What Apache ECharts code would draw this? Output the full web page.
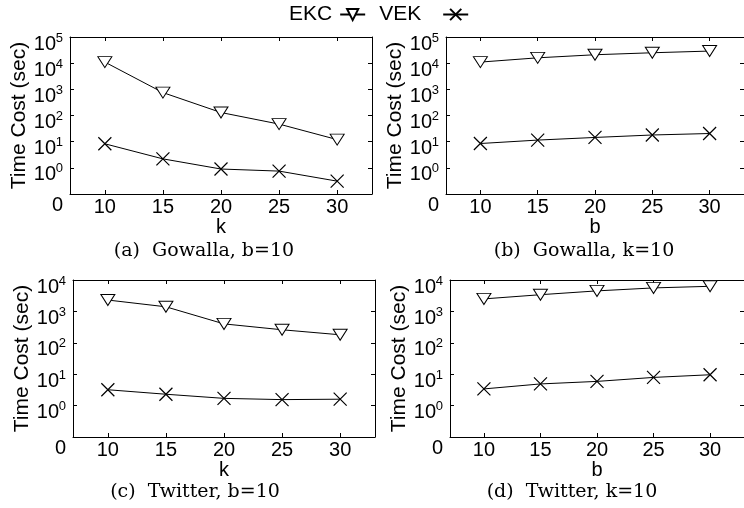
<!DOCTYPE html>
<html>
<head>
<meta charset="utf-8">
<script src="https://cdn.jsdelivr.net/npm/echarts@6/dist/echarts.min.js"></script>
<style>
html, body { margin: 0; padding: 0; background: #fff; }
#main { width: 744px; height: 508px; }
</style>
</head>
<body>
<div id="main"></div>
<script>
// x positions shared by all panels (k or b)
var xValues = [10, 15, 20, 25, 30];

// (a) Gowalla, b=10
var gowallaK_EKC = [11000, 750, 130, 47, 12];
var gowallaK_VEK = [8.3, 2.2, 0.9, 0.75, 0.31];
// (b) Gowalla, k=10
var gowallaB_EKC = [11000, 16000, 21000, 25000, 29000];
var gowallaB_VEK = [8.5, 11.5, 14.5, 18, 20.5];
// (c) Twitter, b=10
var twitterK_EKC = [2300, 1400, 400, 260, 180];
var twitterK_VEK = [3.2, 2.3, 1.7, 1.55, 1.6];
// (d) Twitter, k=10
var twitterB_EKC = [2500, 3400, 4500, 5600, 6300];
var twitterB_VEK = [3.4, 4.9, 5.9, 7.9, 9.6];

var yMin = [0.1, 0.1, 0.1, 0.1];
var yMax = [1e5, 1e5, 1e4, 1e4];
var xNames = ['k', 'b', 'k', 'b'];
var captions = ['(a)  Gowalla, b=10', '(b)  Gowalla, k=10', '(c)  Twitter, b=10', '(d)  Twitter, k=10'];

var panels = [
    [gowallaK_EKC, gowallaK_VEK],
    [gowallaB_EKC, gowallaB_VEK],
    [twitterK_EKC, twitterK_VEK],
    [twitterB_EKC, twitterB_VEK]
];

var FONT = 'Liberation Sans';
var TRI = 'path://M0,0L10,0L5,8.5Z';
var CROSS = 'path://M0,0L10,10M0,10L10,0';

var grids = [
    { left: 70, top: 37, width: 302, height: 157 },
    { left: 446, top: 37, width: 302, height: 157 },
    { left: 73, top: 280, width: 302, height: 157 },
    { left: 450, top: 280, width: 302, height: 157 }
];
var captionPos = [[204, 251], [584, 251], [195, 492], [572, 492]];

function pairs(ys) {
    var out = [];
    for (var i = 0; i < xValues.length; i++) {
        out.push([xValues[i], ys[i]]);
    }
    return out;
}

// 10^e drawn as two lines: superscript on top, "10" below it
function yLabel(v) {
    var e = Math.round(Math.log10(v));
    if (e < 0) return '{z|0}';
    return '{s|' + e + '}\n{b|10}{sp| }';
}

var lineAxis = { show: true, lineStyle: { color: '#000', width: 1 } };

var xAxes = [], yAxes = [], series = [], graphics = [];
for (var g = 0; g < 4; g++) {
    // bottom x axis
    xAxes.push({
        gridIndex: g, type: 'value', position: 'bottom',
        min: 7, max: 33,
        name: xNames[g], nameLocation: 'middle', nameGap: 20,
        nameTextStyle: { fontFamily: FONT, fontSize: 20, color: '#000' },
        axisLine: lineAxis,
        axisTick: { show: true, inside: true, length: 4, customValues: xValues, lineStyle: { color: '#000' } },
        axisLabel: { customValues: xValues, margin: 3, fontFamily: FONT, fontSize: 20, color: '#000' },
        splitLine: { show: false }
    });
    // top mirror
    xAxes.push({
        gridIndex: g, type: 'value', position: 'top',
        min: 7, max: 33,
        axisLine: lineAxis,
        axisTick: { show: true, inside: true, length: 4, customValues: xValues, lineStyle: { color: '#000' } },
        axisLabel: { show: false },
        splitLine: { show: false }
    });
    // left log axis
    yAxes.push({
        gridIndex: g, type: 'log', logBase: 10, position: 'left',
        min: yMin[g], max: yMax[g],
        name: 'Time Cost (sec)', nameLocation: 'middle', nameGap: 39,
        nameTextStyle: { fontFamily: FONT, fontSize: 21, color: '#000' },
        axisLine: lineAxis,
        axisTick: { show: true, inside: true, length: 4, lineStyle: { color: '#000' } },
        minorTick: { show: false },
        axisLabel: {
            margin: 7, formatter: yLabel, color: '#000',
            verticalAlign: 'top', align: 'right',
            showMinLabel: true, showMaxLabel: true, hideOverlap: false,
            rich: {
                s: { fontFamily: FONT, fontSize: 13, lineHeight: 2, color: '#000' },
                b: { fontFamily: FONT, fontSize: 20, lineHeight: 10, color: '#000' },
                sp: { fontFamily: FONT, fontSize: 13, lineHeight: 10, width: 7 },
                z: { fontFamily: FONT, fontSize: 20, lineHeight: 22, color: '#000' }
            }
        },
        splitLine: { show: false }
    });
    // right mirror
    yAxes.push({
        gridIndex: g, type: 'log', logBase: 10, position: 'right',
        min: yMin[g], max: yMax[g],
        axisLine: lineAxis,
        axisTick: { show: true, inside: true, length: 4, lineStyle: { color: '#000' } },
        axisLabel: { show: false },
        splitLine: { show: false }
    });

    series.push({
        name: 'EKC', type: 'line',
        xAxisIndex: g * 2, yAxisIndex: g * 2,
        data: pairs(panels[g][0]),
        symbol: TRI, symbolSize: [14, 11],
        lineStyle: { color: '#000', width: 1 },
        itemStyle: { color: '#fff', borderColor: '#000', borderWidth: 1 },
        z: 3
    });
    series.push({
        name: 'VEK', type: 'line',
        xAxisIndex: g * 2, yAxisIndex: g * 2,
        data: pairs(panels[g][1]),
        symbol: CROSS, symbolSize: 13,
        lineStyle: { color: '#000', width: 1 },
        itemStyle: { color: 'none', borderColor: '#000', borderWidth: 1.2 },
        z: 3
    });

    graphics.push({
        type: 'text',
        x: captionPos[g][0], y: captionPos[g][1],
        style: {
            text: captions[g], fill: '#000',
            font: '19px "DejaVu Serif"',
            textAlign: 'center', textVerticalAlign: 'middle'
        }
    });
}

var option = {
    animation: false,
    backgroundColor: '#fff',
    legend: {
        data: [
            { name: 'EKC' },
            { name: 'VEK', textStyle: { padding: [0, 17, 0, 0] } }
        ],
        top: 4, left: 289, padding: 0,
        align: 'right',
        itemWidth: 25, itemHeight: 14, itemGap: 13,
        textStyle: { fontFamily: FONT, fontSize: 21, color: '#000', padding: [0, 3, 0, 0] }
    },
    grid: grids,
    xAxis: xAxes,
    yAxis: yAxes,
    series: series,
    graphic: graphics
};

echarts.init(document.getElementById('main')).setOption(option);
</script>
</body>
</html>
